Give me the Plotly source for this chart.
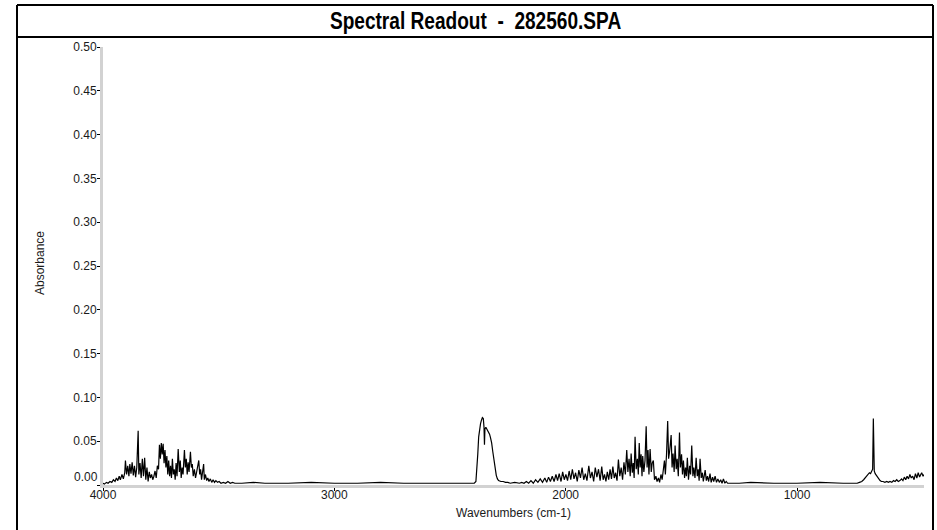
import plotly.graph_objects as go

# ---- data ----
wavenumbers = [
    4000, 3994, 3985, 3978, 3970, 3962, 3955, 3948, 3942, 3936, 3930, 3925, 3918, 3912, 3906, 3903,
    3898, 3893, 3888, 3884, 3879, 3874, 3869, 3864, 3859, 3854, 3848, 3845, 3840, 3835, 3830, 3825,
    3820, 3815, 3810, 3805, 3800, 3795, 3790, 3785, 3780, 3775, 3770, 3765, 3760, 3756, 3752, 3748,
    3744, 3740, 3736, 3732, 3728, 3724, 3720, 3716, 3712, 3708, 3704, 3700, 3696, 3692, 3688, 3684,
    3680, 3675, 3670, 3666, 3662, 3658, 3654, 3648, 3644, 3640, 3636, 3632, 3628, 3622, 3618, 3614,
    3610, 3605, 3600, 3596, 3592, 3586, 3582, 3578, 3574, 3569, 3565, 3562, 3557, 3552, 3547, 3542,
    3536, 3530, 3524, 3518, 3512, 3505, 3498, 3490, 3480, 3470, 3460, 3450, 3440, 3430,
    3400, 3350, 3300, 3200, 3100, 3000, 2900, 2800, 2700, 2600, 2500, 2400,
    2395, 2388, 2384, 2380, 2376, 2372, 2368, 2364, 2360, 2356, 2353, 2351, 2349, 2345, 2341, 2337,
    2333, 2329, 2325, 2320, 2315, 2310, 2305, 2300, 2295, 2290, 2280, 2270, 2260, 2250, 2240,
    2220, 2200, 2190,
    2180, 2170, 2160, 2150, 2140, 2130, 2120, 2110, 2100, 2090, 2082, 2074, 2066, 2058, 2050, 2042,
    2035, 2028, 2020, 2013, 2006, 1999, 1992, 1985, 1978, 1971, 1964, 1957, 1950, 1943, 1936, 1929,
    1922, 1915, 1908, 1900, 1893, 1886, 1879, 1872, 1865, 1858, 1851, 1844, 1838, 1832, 1826, 1820,
    1814, 1808, 1802, 1796, 1790, 1784, 1778, 1772, 1766, 1760, 1754, 1748, 1742, 1736, 1731, 1726,
    1721, 1717, 1712, 1708, 1704, 1700, 1695, 1690, 1686, 1682, 1678, 1674, 1670, 1667, 1662, 1657,
    1652, 1648, 1644, 1640, 1635, 1630, 1626, 1621, 1616, 1610, 1605, 1599, 1594, 1588, 1583, 1578,
    1573, 1569, 1564, 1559, 1555, 1550, 1544, 1540, 1536, 1531, 1527, 1522, 1518, 1513, 1508, 1504,
    1499, 1495, 1491, 1486, 1482, 1478, 1474, 1469, 1464, 1460, 1455, 1450, 1446, 1441, 1436, 1431,
    1427, 1423, 1419, 1414, 1409, 1405, 1400, 1397, 1392, 1387, 1382, 1376, 1371, 1365, 1360, 1354,
    1348, 1342, 1336, 1330, 1324, 1318, 1312, 1306, 1300,
    1250, 1200, 1100, 1000, 900, 800, 740,
    730, 720, 712, 705, 699, 693, 687, 682, 677, 673, 670, 668, 666, 662, 657, 652,
    646, 641, 635, 628, 620, 612, 605, 598, 590, 583, 576, 569, 562, 555, 548, 542,
    536, 530, 524, 518, 512, 506, 500, 494, 488, 482, 476, 470, 465, 461, 455, 451,
]

absorbance = [
    0.002, 0.001, 0.003, 0.002, 0.004, 0.003, 0.006, 0.004, 0.008, 0.005, 0.010, 0.006, 0.012, 0.007, 0.014, 0.028,
    0.012, 0.022, 0.010, 0.024, 0.013, 0.026, 0.011, 0.022, 0.009, 0.020, 0.062, 0.012, 0.025, 0.008, 0.030, 0.010,
    0.031, 0.006, 0.020, 0.004, 0.015, 0.008, 0.012, 0.006, 0.010, 0.016, 0.008, 0.022, 0.018, 0.046, 0.030, 0.048,
    0.035, 0.047, 0.025, 0.040, 0.020, 0.033, 0.012, 0.028, 0.010, 0.022, 0.008, 0.030, 0.012, 0.018, 0.006, 0.025,
    0.010, 0.041, 0.015, 0.028, 0.008, 0.020, 0.012, 0.040, 0.020, 0.030, 0.012, 0.026, 0.015, 0.038, 0.020, 0.024,
    0.010, 0.018, 0.008, 0.014, 0.020, 0.028, 0.012, 0.018, 0.006, 0.020, 0.024, 0.006, 0.012, 0.005, 0.008, 0.004,
    0.007, 0.003, 0.006, 0.003, 0.005, 0.003, 0.004, 0.002, 0.003, 0.002, 0.004, 0.002, 0.003, 0.002,
    0.002, 0.003, 0.002, 0.002, 0.003, 0.002, 0.002, 0.003, 0.002, 0.002, 0.002, 0.002,
    0.002, 0.004, 0.015, 0.035, 0.055, 0.066, 0.070, 0.074, 0.077, 0.076, 0.066, 0.046, 0.064, 0.066, 0.064, 0.062,
    0.061, 0.058, 0.054, 0.048, 0.038, 0.028, 0.019, 0.011, 0.007, 0.005, 0.004, 0.004, 0.003, 0.003, 0.002,
    0.003, 0.002, 0.003,
    0.002, 0.004, 0.002, 0.005, 0.002, 0.006, 0.003, 0.007, 0.003, 0.008, 0.003, 0.009, 0.004, 0.010, 0.004, 0.012,
    0.005, 0.013, 0.004, 0.015, 0.006, 0.012, 0.005, 0.016, 0.006, 0.018, 0.007, 0.014, 0.004, 0.017, 0.008, 0.020,
    0.006, 0.013, 0.005, 0.022, 0.008, 0.015, 0.004, 0.020, 0.009, 0.018, 0.005, 0.021, 0.006, 0.012, 0.004, 0.015,
    0.006, 0.018, 0.007, 0.021, 0.008, 0.014, 0.005, 0.029, 0.010, 0.020, 0.006, 0.026, 0.012, 0.040, 0.015, 0.030,
    0.010, 0.036, 0.014, 0.025, 0.008, 0.055, 0.018, 0.030, 0.012, 0.048, 0.020, 0.035, 0.010, 0.033, 0.015, 0.028,
    0.067, 0.020, 0.040, 0.012, 0.041, 0.015, 0.025, 0.028, 0.006, 0.010, 0.004, 0.008, 0.003, 0.012, 0.006, 0.020,
    0.028, 0.012, 0.035, 0.073, 0.030, 0.040, 0.057, 0.020, 0.036, 0.015, 0.045, 0.018, 0.030, 0.010, 0.060, 0.020,
    0.035, 0.012, 0.028, 0.008, 0.020, 0.010, 0.031, 0.006, 0.022, 0.012, 0.045, 0.010, 0.020, 0.008, 0.031, 0.010,
    0.018, 0.005, 0.030, 0.008, 0.014, 0.004, 0.012, 0.017, 0.005, 0.010, 0.004, 0.013, 0.003, 0.009, 0.004, 0.010,
    0.003, 0.007, 0.003, 0.006, 0.002, 0.007, 0.002, 0.004, 0.002,
    0.002, 0.003, 0.002, 0.002, 0.003, 0.002, 0.002,
    0.003, 0.004, 0.006, 0.008, 0.010, 0.012, 0.014, 0.013, 0.015, 0.018, 0.076, 0.020, 0.016, 0.013, 0.011, 0.009,
    0.007, 0.005, 0.004, 0.004, 0.003, 0.004, 0.003, 0.004, 0.003, 0.005, 0.004, 0.006, 0.004, 0.005, 0.007, 0.005,
    0.009, 0.006, 0.010, 0.007, 0.012, 0.008, 0.010, 0.006, 0.013, 0.008, 0.014, 0.009, 0.012, 0.014, 0.010, 0.012,
]

x_tick_values = [4000, 3000, 2000, 1000]
x_tick_labels = ["4000", "3000", "2000", "1000"]
y_tick_values = [0.0, 0.05, 0.10, 0.15, 0.20, 0.25, 0.30, 0.35, 0.40, 0.45, 0.50]
y_tick_labels = ["", "0.05", "0.10", "0.15", "0.20", "0.25", "0.30", "0.35", "0.40", "0.45", "0.50"]

title_text = "Spectral Readout  -  282560.SPA"
x_title = "Wavenumbers (cm-1)"
y_title = "Absorbance"

# ---- figure ----
W, H = 937, 530
ML, MR, MT, MB = 103, 13, 47, 45
PW, PH = W - ML - MR, H - MT - MB


def px_to_paper_x(px):
    return (px - ML) / PW


def py_to_paper_y(py):
    return (H - MB - py) / PH


fig = go.Figure()
fig.add_trace(go.Scatter(
    x=wavenumbers, y=absorbance, mode="lines",
    line=dict(color="#000000", width=1.2),
    hoverinfo="x+y", showlegend=False,
))

axis_font = dict(family="Liberation Sans, Arial, sans-serif", size=12, color="#1a1a1a")

fig.update_layout(
    width=W, height=H,
    margin=dict(l=ML, r=MR, t=MT, b=MB, pad=0),
    paper_bgcolor="white", plot_bgcolor="white",
    font=axis_font,
    xaxis=dict(
        range=[4000, 451], showgrid=False, zeroline=False,
        showline=True, linecolor="#d2d2d2", linewidth=3,
        ticks="outside", ticklen=3, tickwidth=1, tickcolor="#000000",
        tickvals=x_tick_values, ticktext=x_tick_labels, tickfont=axis_font,
        ticklabelstandoff=-6,
    ),
    yaxis=dict(
        range=[0, 0.5], showgrid=False, zeroline=False,
        showline=True, linecolor="#d2d2d2", linewidth=3,
        ticks="outside", ticklen=3, tickwidth=1, tickcolor="#000000",
        tickvals=y_tick_values, ticktext=y_tick_labels, tickfont=axis_font,
        ticklabelstandoff=-2,
    ),
)

# frame and title band
frame = dict(type="line", xref="paper", yref="paper", line=dict(color="#000000", width=2))
x_left, x_right = px_to_paper_x(17), px_to_paper_x(933)
y_top, y_sep, y_bot = py_to_paper_y(5), py_to_paper_y(37), py_to_paper_y(545)
fig.add_shape(**frame, x0=x_left, x1=x_right, y0=y_top, y1=y_top)
fig.add_shape(**frame, x0=x_left, x1=x_right, y0=y_sep, y1=y_sep)
fig.add_shape(**frame, x0=x_left, x1=x_left, y0=y_top, y1=y_bot)
fig.add_shape(**frame, x0=x_right, x1=x_right, y0=y_top, y1=y_bot)

fig.add_annotation(
    text=title_text, xref="paper", yref="paper",
    x=px_to_paper_x(475), y=py_to_paper_y(21), xanchor="center", yanchor="middle",
    showarrow=False,
    font=dict(family="Liberation Sans, Arial, sans-serif", size=23, color="#000000", weight="bold"),
)
fig.add_annotation(
    text="0.00", xref="paper", yref="paper",
    x=px_to_paper_x(100), y=py_to_paper_y(477), xanchor="right", yanchor="middle",
    showarrow=False, font=axis_font,
)
fig.add_annotation(
    text=y_title, xref="paper", yref="paper", textangle=-90,
    x=px_to_paper_x(40), y=py_to_paper_y(263), xanchor="center", yanchor="middle",
    showarrow=False, font=axis_font,
)
fig.add_annotation(
    text=x_title, xref="paper", yref="paper",
    x=px_to_paper_x(513), y=py_to_paper_y(513), xanchor="center", yanchor="middle",
    showarrow=False, font=axis_font,
)

# remove the default page margin and condense the title glyphs horizontally
post_js = """
document.body.style.margin = '0px';
document.body.style.overflow = 'hidden';
var gd = document.getElementById('{plot_id}');
var t = gd.querySelector('.annotation[data-index="0"] .annotation-text');
if (t) {
  var b = t.getBBox();
  var cx = b.x + b.width / 2;
  var prev = t.getAttribute('transform') || '';
  t.setAttribute('transform', prev + ' translate(' + cx + ',0) scale(0.83,1) translate(' + (-cx) + ',0)');
}
"""

fig.write_html("out.html", post_script=post_js, config={"displayModeBar": False})
